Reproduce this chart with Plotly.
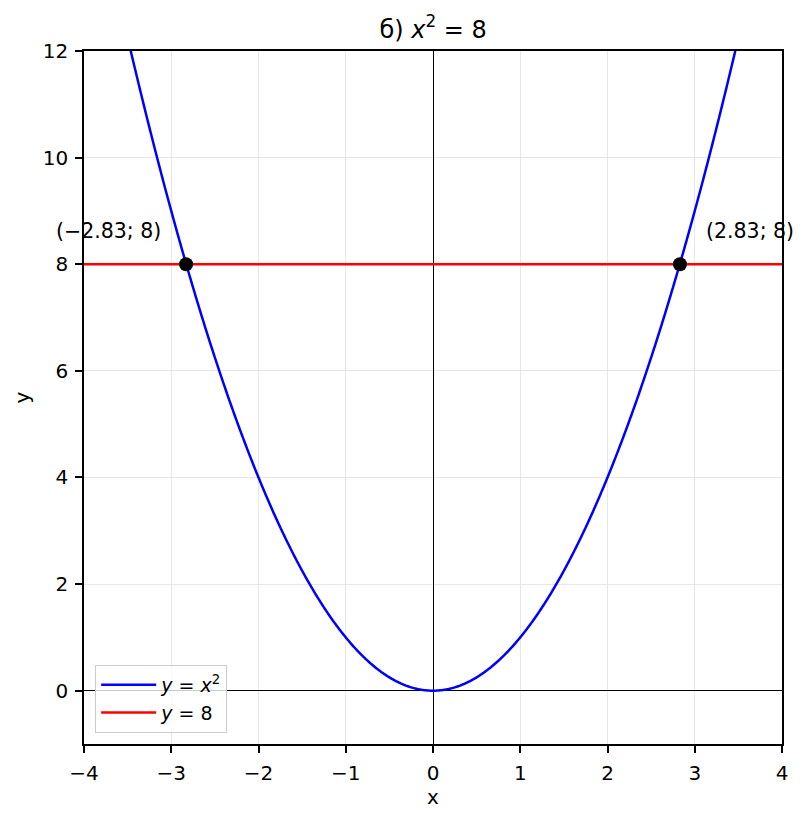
import numpy as np
import plotly.graph_objects as go

FONT = "DejaVu Sans, sans-serif"

# curve y = x^2 sampled over the x range
x_curve = np.linspace(-4, 4, 801)
y_curve = x_curve ** 2

line_level = 8
x_line = [-4, 4]
y_line = [line_level, line_level]

x_roots = [-2.83, 2.83]
y_roots = [8, 8]
root_labels = ["(\u22122.83; 8)", "(2.83; 8)"]

x_ticks = [-4, -3, -2, -1, 0, 1, 2, 3, 4]
y_ticks = [0, 2, 4, 6, 8, 10, 12]

fig = go.Figure()
fig.add_trace(go.Scatter(
    x=x_curve, y=y_curve, mode="lines", name="<i>y</i> = <i>x</i><sup>2</sup>",
    line=dict(color="#0000FF", width=2.5, simplify=False),
))
fig.add_trace(go.Scatter(
    x=x_line, y=y_line, mode="lines", name="<i>y</i> = 8",
    line=dict(color="#FF0000", width=2.5),
))
fig.add_trace(go.Scatter(
    x=x_roots, y=y_roots, mode="markers", showlegend=False,
    marker=dict(color="black", size=14),
))

for xv, yv, lab, dx in zip(x_roots, y_roots, root_labels, [-78, 70]):
    fig.add_annotation(
        x=xv, y=yv, xref="x", yref="y", text=lab, showarrow=False,
        xshift=dx, yshift=33, font=dict(size=20.5, color="black", family=FONT),
    )

axis_common = dict(
    showgrid=True, gridcolor="#e7e7e7", gridwidth=1,
    zeroline=True, zerolinecolor="black", zerolinewidth=1,
    showline=True, linecolor="black", linewidth=1.5, mirror=True,
    ticks="outside", ticklen=7, tickwidth=1.5, tickcolor="black",
    ticklabelstandoff=3,
    tickfont=dict(size=20, color="black", family=FONT),
    title_font=dict(size=20, color="black", family=FONT),
)

# page body has an 8px margin, so the figure is drawn 8px smaller
fig.update_layout(
    width=802, height=814,
    paper_bgcolor="white", plot_bgcolor="white",
    font=dict(family=FONT, color="black"),
    margin=dict(l=76, r=28, t=43, b=78),
    title=dict(text="б) <i>x</i><sup>2</sup> = 8", x=0.53, xanchor="center",
               y=0.974, yanchor="middle",
               font=dict(size=24, color="black", family=FONT)),
    xaxis=dict(range=[-4, 4], tickvals=x_ticks,
               ticktext=[str(v).replace("-", "\u2212") for v in x_ticks],
               title=dict(text="x", standoff=6), **axis_common),
    yaxis=dict(range=[-1, 12], tickvals=y_ticks,
               title=dict(text="y", standoff=8), **axis_common),
    legend=dict(x=0.016, y=0.016, xanchor="left", yanchor="bottom",
                bgcolor="rgba(255,255,255,0.8)", bordercolor="#CCCCCC",
                borderwidth=1, itemwidth=55,
                font=dict(size=19, family=FONT)),
)

fig.write_html("out.html")
